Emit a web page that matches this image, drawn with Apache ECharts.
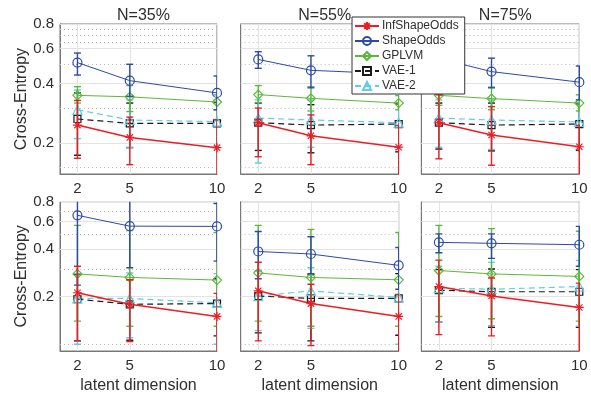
<!DOCTYPE html>
<html>
<head>
<meta charset="utf-8">
<script src="https://cdn.jsdelivr.net/npm/echarts@6/dist/echarts.min.js"></script>
<style>
  html, body { margin: 0; padding: 0; background: #fff; }
  #chart { width: 591px; height: 401px; }
</style>
</head>
<body>
<div id="chart"></div>
<script>
// latent dimension on x, cross-entropy (log) on y
var dims = [2, 5, 10];
var colTitles = ['N=35%', 'N=55%', 'N=75%'];
var yTicks = [0.2, 0.4, 0.6, 0.8];
var minorTop = [0.15, 0.3, 0.5, 0.65, 0.7, 0.75];
var minorBottom = [0.1, 0.3, 0.5, 0.7];
var names = ['InfShapeOdds', 'ShapeOdds', 'GPLVM', 'VAE-1', 'VAE-2'];

// panels: top row 35/55/75, then bottom row 35/55/75
var infMean = [[0.246, 0.213, 0.189], [0.253, 0.217, 0.19], [0.253, 0.219, 0.191], [0.212, 0.179, 0.150], [0.218, 0.181, 0.150], [0.232, 0.202, 0.171]];
var infLo = [[0.167, 0.155, 0.12], [0.17, 0.155, 0.12], [0.166, 0.154, 0.12], [0.105, 0.104, 0.08], [0.105, 0.098, 0.08], [0.115, 0.113, 0.08]];
var infHi = [[0.328, 0.27, 0.262], [0.30, 0.277, 0.245], [0.35, 0.305, 0.245], [0.312, 0.256, 0.21], [0.331, 0.24, 0.207], [0.341, 0.263, 0.244]];

var shapeMean = [[0.51, 0.413, 0.358], [0.529, 0.466, 0.446], [0.535, 0.459, 0.406], [0.656, 0.56, 0.558], [0.387, 0.373, 0.316], [0.442, 0.436, 0.427]];
var shapeLo = [[0.441, 0.344, 0.294], [0.477, 0.38, 0.38], [0.47, 0.38, 0.33], [0.237, 0.305, 0.336], [0.26, 0.28, 0.223], [0.38, 0.35, 0.312]];
var shapeHi = [[0.57, 0.50, 0.436], [0.579, 0.552, 0.52], [0.60, 0.537, 0.49], [1.0, 1.0, 0.78], [0.518, 0.48, 0.41], [0.50, 0.50, 0.558]];

var gplvmMean = [[0.348, 0.342, 0.322], [0.351, 0.336, 0.318], [0.348, 0.335, 0.318], [0.279, 0.265, 0.255], [0.283, 0.265, 0.256], [0.293, 0.279, 0.269]];
var gplvmLo = [[0.318, 0.288, 0.294], [0.32, 0.29, 0.294], [0.31, 0.294, 0.29], [0.14, 0.13, 0.13], [0.14, 0.13, 0.13], [0.15, 0.145, 0.14]];
var gplvmHi = [[0.385, 0.39, 0.35], [0.39, 0.385, 0.347], [0.385, 0.383, 0.35], [0.566, 0.525, 0.51], [0.566, 0.534, 0.51], [0.566, 0.54, 0.52]];

var vae1Mean = [[0.264, 0.251, 0.251], [0.253, 0.246, 0.249], [0.253, 0.246, 0.249], [0.193, 0.179, 0.181], [0.202, 0.195, 0.195], [0.22, 0.215, 0.215]];
var vae1Lo = [[0.173, 0.189, 0.19], [0.183, 0.178, 0.18], [0.186, 0.182, 0.183], [0.105, 0.106, 0.113], [0.118, 0.105, 0.114], [0.138, 0.128, 0.128]];
var vae1Hi = [[0.358, 0.318, 0.32], [0.318, 0.312, 0.315], [0.318, 0.318, 0.315], [0.276, 0.256, 0.26], [0.29, 0.276, 0.28], [0.297, 0.3, 0.297]];

var vae2Mean = [[0.294, 0.261, 0.256], [0.267, 0.261, 0.253], [0.267, 0.261, 0.255], [0.195, 0.195, 0.183], [0.202, 0.218, 0.198], [0.227, 0.223, 0.232]];
var vae2Lo = [[0.21, 0.19, 0.19], [0.158, 0.19, 0.185], [0.19, 0.185, 0.185], [0.1, 0.11, 0.1], [0.122, 0.126, 0.1], [0.138, 0.131, 0.13]];
var vae2Hi = [[0.37, 0.33, 0.33], [0.33, 0.33, 0.32], [0.33, 0.33, 0.32], [0.28, 0.283, 0.28], [0.29, 0.305, 0.297], [0.312, 0.33, 0.34]];

var FONT = '"Liberation Sans", Arial, sans-serif';
var TXT = '#2e2e2e';
var AXIS = '#777';

var methods = [
  {name: names[0], mean: infMean, lo: infLo, hi: infHi, color: '#ee1d23', symbol: 'path://M5,0L5,10M0,5L10,5M1.5,1.5L8.5,8.5M1.5,8.5L8.5,1.5', size: 9, dash: 'solid', width: 1.5, z: 8},
  {name: names[1], mean: shapeMean, lo: shapeLo, hi: shapeHi, color: '#2c4ba6', symbol: 'circle', size: 9, dash: 'solid', width: 1, z: 7},
  {name: names[2], mean: gplvmMean, lo: gplvmLo, hi: gplvmHi, color: '#5cb83a', symbol: 'diamond', size: 9, dash: 'solid', width: 1, z: 6},
  {name: names[3], mean: vae1Mean, lo: vae1Lo, hi: vae1Hi, color: '#1a1a1a', symbol: 'rect', size: 7, dash: [6, 4], width: 1.2, z: 5},
  {name: names[4], mean: vae2Mean, lo: vae2Lo, hi: vae2Hi, color: '#5fcde4', symbol: 'triangle', size: 9, dash: [6, 4], width: 1.2, z: 5}
];

var colLeft = [60, 240.7, 421.3];
var colWidth = [157, 158, 158];
var rowTop = [24, 201.7];
var rowHeight = [150, 149.3];
var rowMin = [0.139, 0.0906];
var yMax = 0.8;

function renderErr(params, api) {
  var x = api.value(0);
  var top = api.coord([x, api.value(2)]);
  var bot = api.coord([x, api.value(1)]);
  var style = {stroke: api.visual('color'), lineWidth: 1.4, fill: null};
  var w = 3.5;
  return {
    type: 'group',
    children: [
      {type: 'line', shape: {x1: top[0], y1: top[1], x2: bot[0], y2: bot[1]}, style: style},
      {type: 'line', shape: {x1: top[0] - w, y1: top[1], x2: top[0] + w, y2: top[1]}, style: style},
      {type: 'line', shape: {x1: bot[0] - w, y1: bot[1], x2: bot[0] + w, y2: bot[1]}, style: style}
    ]
  };
}

var grids = [], xAxes = [], yAxes = [], series = [], titles = [];

for (var p = 0; p < 6; p++) {
  var row = Math.floor(p / 3), col = p % 3;
  grids.push({
    left: colLeft[col], top: rowTop[row], width: colWidth[col], height: rowHeight[row],
    show: true, borderColor: AXIS, borderWidth: 1, backgroundColor: '#fff'
  });
  xAxes.push({
    type: 'value', gridIndex: p, min: 1, max: 10,
    name: row === 1 ? 'latent dimension' : '',
    nameLocation: 'middle', nameGap: 27,
    nameTextStyle: {fontFamily: FONT, fontSize: 16, color: TXT},
    axisLine: {show: true, lineStyle: {color: AXIS}},
    axisTick: {show: true, inside: true, length: 3, customValues: dims, lineStyle: {color: AXIS}},
    axisLabel: {customValues: dims, margin: 7, fontFamily: FONT, fontSize: 15, color: TXT},
    splitLine: {show: false}
  });
  yAxes.push({
    type: 'log', logBase: 10, gridIndex: p, min: rowMin[row], max: yMax,
    name: col === 0 ? 'Cross-Entropy' : '',
    nameLocation: 'middle', nameGap: 30,
    nameTextStyle: {fontFamily: FONT, fontSize: 16, color: TXT},
    axisLine: {show: true, lineStyle: {color: AXIS}},
    axisTick: {show: true, inside: true, length: 3, customValues: yTicks, lineStyle: {color: AXIS}},
    axisLabel: {show: col === 0, customValues: yTicks, margin: 6, fontFamily: FONT, fontSize: 15, color: TXT,
      formatter: function (v) { return String(+(+v).toFixed(2)); }},
    splitLine: {show: false}
  });
  if (row === 0) {
    titles.push({
      text: colTitles[col], left: colLeft[col] + colWidth[col] / 2, top: 3, textAlign: 'center',
      textStyle: {fontFamily: FONT, fontSize: 16, fontWeight: 'normal', color: TXT}
    });
  }

  // grid lines
  var gridData = [];
  yTicks.forEach(function (v) { gridData.push({yAxis: v, lineStyle: {type: 'solid', color: '#e3e3e3', width: 1}}); });
  (row === 0 ? minorTop : minorBottom).forEach(function (v) {
    gridData.push({yAxis: v, lineStyle: {type: [1, 3], color: '#bdbdbd', width: 1}});
  });
  dims.forEach(function (v) { gridData.push({xAxis: v, lineStyle: {type: 'solid', color: '#e3e3e3', width: 1}}); });
  series.push({
    type: 'line', name: 'grid' + p, xAxisIndex: p, yAxisIndex: p, data: [], z: 1, silent: true,
    markLine: {silent: true, symbol: 'none', label: {show: false}, animation: false, data: gridData}
  });

  methods.forEach(function (m) {
    var pts = dims.map(function (d, i) { return [d, m.mean[p][i]]; });
    var errs = dims.map(function (d, i) { return [d, m.lo[p][i], m.hi[p][i]]; });
    series.push({
      type: 'custom', name: m.name + ' err', xAxisIndex: p, yAxisIndex: p, z: m.z, clip: true,
      itemStyle: {color: m.color}, renderItem: renderErr, data: errs, silent: true
    });
    series.push({
      type: 'line', name: m.name, xAxisIndex: p, yAxisIndex: p, z: m.z, data: pts,
      symbol: m.symbol, symbolSize: m.size, showSymbol: true,
      lineStyle: {color: m.color, width: m.width, type: m.dash},
      itemStyle: {color: 'rgba(255,255,255,0)', borderColor: m.color, borderWidth: 1.2},
      emphasis: {disabled: true}
    });
  });
}

var chart = echarts.init(document.getElementById('chart'), null, {renderer: 'canvas'});
chart.setOption({
  animation: false,
  backgroundColor: '#fff',
  title: titles,
  grid: grids,
  xAxis: xAxes,
  yAxis: yAxes,
  legend: {
    data: names, orient: 'vertical', left: 352, top: 17,
    itemWidth: 24, itemHeight: 10, itemGap: 3,
    padding: [3, 6, 2, 2],
    backgroundColor: '#fff', borderColor: '#333', borderWidth: 1,
    textStyle: {fontFamily: FONT, fontSize: 12, color: TXT, padding: [0, 0, 0, -2]},
    selectedMode: false, z: 10
  },
  series: series
});
</script>
</body>
</html>
